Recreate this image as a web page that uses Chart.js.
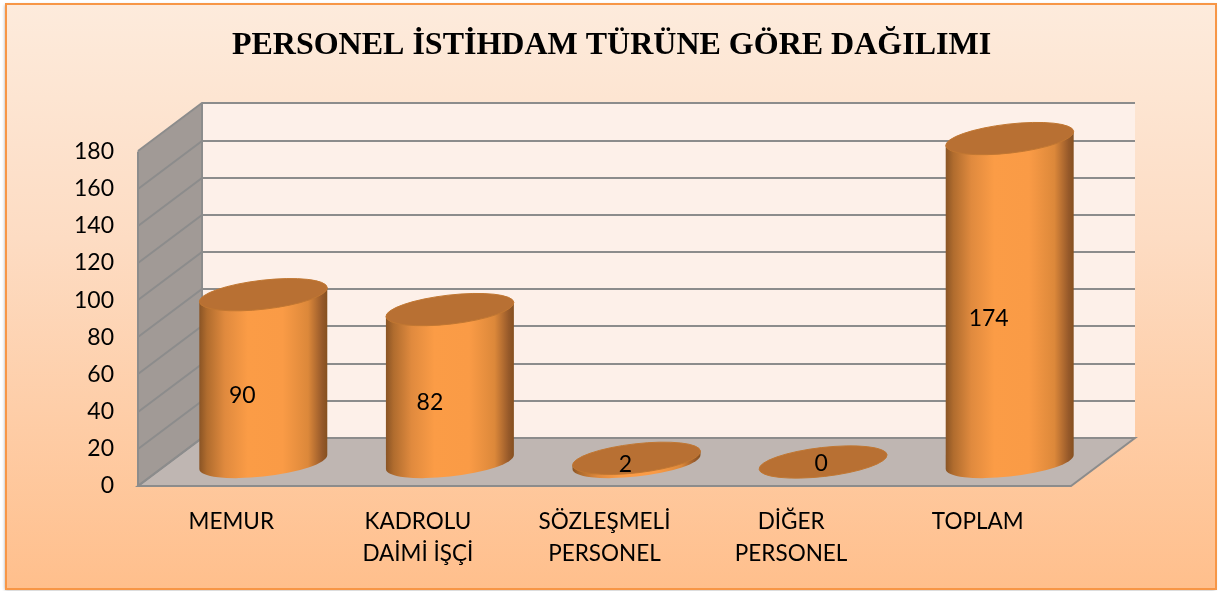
<!DOCTYPE html>
<html lang="tr">
<head>
<meta charset="utf-8">
<title>Personel İstihdam Türüne Göre Dağılımı</title>
<script src="https://cdn.jsdelivr.net/npm/chart.js@4"></script>
<style>
  html, body { margin: 0; padding: 0; background: #fff; }
  canvas { display: block; }
</style>
</head>
<body>
<canvas id="chart" width="1219" height="591"></canvas>
<script>
const categories = [["MEMUR"], ["KADROLU", "DAİMİ İŞÇİ"], ["SÖZLEŞMELİ", "PERSONEL"], ["DİĞER", "PERSONEL"], ["TOPLAM"]];
const values = [90, 82, 2, 0, 174];
const yTicks = [0, 20, 40, 60, 80, 100, 120, 140, 160, 180];
const chartTitle = "PERSONEL İSTİHDAM TÜRÜNE GÖRE DAĞILIMI";

// depth of the fake 3D box
const DEPTH_X = 64;
const DEPTH_Y = -48;
const ELLIPSE_RY = 14.5;
const ELLIPSE_ROT = -6.5 * Math.PI / 180;
// value labels sit off centre on the original
const labelNudgeX = [-21, -20, -11, -2, -21];
const labelNudgeY = [17, 17, 4, 2, 18];

const FONT = "Lato, 'Open Sans', sans-serif";

const backgroundPlugin = {
  id: "frame",
  // the title is centred on the whole frame, not on the padded box
  afterLayout(chart) {
    chart.titleBlock.left += 66;
    chart.titleBlock.right += 66;
  },
  beforeDraw(chart) {
    const ctx = chart.ctx;
    const g = ctx.createLinearGradient(0, 4, 0, 589);
    g.addColorStop(0, "#fdebdc");
    g.addColorStop(0.4, "#fddcc3");
    g.addColorStop(1, "#ffbf8c");
    ctx.save();
    ctx.shadowColor = "rgba(0,0,0,0.35)";
    ctx.shadowBlur = 3;
    ctx.shadowOffsetX = -1;
    ctx.shadowOffsetY = 1;
    ctx.fillStyle = g;
    ctx.fillRect(6, 4, 1210, 585);
    ctx.restore();
    ctx.save();
    ctx.strokeStyle = "#f79646";
    ctx.lineWidth = 2;
    ctx.strokeRect(6, 4, 1210, 585);
    ctx.restore();
  }
};

const boxPlugin = {
  id: "box",
  beforeDatasetsDraw(chart) {
    const ctx = chart.ctx;
    const y = chart.scales.y;
    const a = chart.chartArea;
    const base = y.getPixelForValue(0);
    const top = y.getPixelForValue(180);
    ctx.save();

    // back wall
    ctx.fillStyle = "#fdf0e9";
    ctx.fillRect(a.left + DEPTH_X, top + DEPTH_Y, a.right - a.left, base - top);

    // side wall
    ctx.fillStyle = "#a19a96";
    ctx.beginPath();
    ctx.moveTo(a.left, top);
    ctx.lineTo(a.left + DEPTH_X, top + DEPTH_Y);
    ctx.lineTo(a.left + DEPTH_X, base + DEPTH_Y);
    ctx.lineTo(a.left, base);
    ctx.closePath();
    ctx.fill();

    // floor
    ctx.fillStyle = "#bfb6b2";
    ctx.beginPath();
    ctx.moveTo(a.left, base);
    ctx.lineTo(a.right, base);
    ctx.lineTo(a.right + DEPTH_X, base + DEPTH_Y);
    ctx.lineTo(a.left + DEPTH_X, base + DEPTH_Y);
    ctx.closePath();
    ctx.fill();
    ctx.strokeStyle = "#8c8c8c";
    ctx.lineWidth = 2;
    ctx.stroke();

    // grid lines along side wall and back wall, snapped so they stay crisp
    yTicks.forEach((t) => {
      const py = Math.round(y.getPixelForValue(t));
      ctx.beginPath();
      ctx.moveTo(a.left, py);
      ctx.lineTo(a.left + DEPTH_X, py + DEPTH_Y);
      ctx.lineTo(a.right + DEPTH_X, py + DEPTH_Y);
      ctx.stroke();
    });
    ctx.beginPath();
    ctx.moveTo(a.left, top);
    ctx.lineTo(a.left, base);
    ctx.moveTo(a.left + DEPTH_X, top + DEPTH_Y);
    ctx.lineTo(a.left + DEPTH_X, base + DEPTH_Y);
    ctx.stroke();
    ctx.restore();
  }
};

function drawCylinder(ctx, cx, topY, baseY, rx) {
  const t0 = Math.atan(-(ELLIPSE_RY / rx) * Math.tan(ELLIPSE_ROT));
  const edgeX = rx * Math.cos(t0) * Math.cos(ELLIPSE_ROT) - ELLIPSE_RY * Math.sin(t0) * Math.sin(ELLIPSE_ROT);
  const edgeY = rx * Math.cos(t0) * Math.sin(ELLIPSE_ROT) + ELLIPSE_RY * Math.sin(t0) * Math.cos(ELLIPSE_ROT);

  if (baseY - topY > 0.5) {
    const g = ctx.createLinearGradient(cx - edgeX, 0, cx + edgeX, 0);
    g.addColorStop(0, "#8a5425");
    g.addColorStop(0.06, "#b06c2e");
    g.addColorStop(0.2, "#e08a3e");
    g.addColorStop(0.38, "#fb9c46");
    g.addColorStop(0.65, "#fa9b46");
    g.addColorStop(0.85, "#dc883a");
    g.addColorStop(0.96, "#96592a");
    g.addColorStop(1, "#85501f");
    ctx.fillStyle = g;
    ctx.beginPath();
    ctx.moveTo(cx - edgeX, topY - edgeY);
    ctx.ellipse(cx, baseY, rx, ELLIPSE_RY, ELLIPSE_ROT, t0 + Math.PI, t0, true);
    ctx.lineTo(cx + edgeX, topY + edgeY);
    ctx.closePath();
    ctx.fill();
  }

  ctx.fillStyle = "#b87033";
  ctx.strokeStyle = "#c17732";
  ctx.lineWidth = 1;
  ctx.beginPath();
  ctx.ellipse(cx, topY, rx, ELLIPSE_RY, ELLIPSE_ROT, 0, Math.PI * 2);
  ctx.fill();
  ctx.stroke();
}

const cylinderPlugin = {
  id: "cylinders",
  afterDatasetsDraw(chart) {
    const ctx = chart.ctx;
    const meta = chart.getDatasetMeta(0);
    ctx.save();
    meta.data.forEach((bar) => {
      drawCylinder(ctx, bar.x + DEPTH_X / 2, bar.y + DEPTH_Y / 2, bar.base + DEPTH_Y / 2, bar.width / 2);
    });
    ctx.fillStyle = "#000";
    ctx.font = "23px " + FONT;
    ctx.textAlign = "center";
    ctx.textBaseline = "middle";
    meta.data.forEach((bar, i) => {
      const midY = (bar.y + bar.base) / 2 + DEPTH_Y / 2;
      ctx.fillText(String(values[i]), bar.x + DEPTH_X / 2 + labelNudgeX[i], midY + labelNudgeY[i]);
    });
    ctx.restore();
  }
};

new Chart(document.getElementById("chart"), {
  type: "bar",
  data: {
    labels: categories,
    datasets: [{
      data: values,
      backgroundColor: "transparent",
      borderWidth: 0,
      categoryPercentage: 1,
      barPercentage: 0.69
    }]
  },
  options: {
    responsive: false,
    animation: false,
    layout: { padding: { left: 20, right: 148, top: 10, bottom: 0 } },
    plugins: {
      legend: { display: false },
      tooltip: { enabled: false },
      title: {
        display: true,
        text: chartTitle,
        color: "#000",
        font: { family: "'Liberation Serif', serif", size: 32, weight: "bold" },
        padding: { top: 17, bottom: 86 }
      }
    },
    scales: {
      x: {
        grid: { display: false, drawTicks: false },
        border: { display: false },
        afterFit(scale) { scale.height = 105; },
        ticks: {
          color: "#000",
          autoSkip: false,
          maxRotation: 0,
          padding: 20,
          font: { family: FONT, size: 22.5, lineHeight: 1.42 }
        }
      },
      y: {
        min: 0,
        max: 180,
        afterBuildTicks(scale) { scale.ticks = yTicks.map(v => ({ value: v })); },
        afterFit(scale) { scale.width = 118; },
        grid: { display: false, drawTicks: false },
        border: { display: false },
        ticks: {
          color: "#000",
          padding: 24,
          font: { family: FONT, size: 23 }
        }
      }
    }
  },
  plugins: [backgroundPlugin, boxPlugin, cylinderPlugin]
});
</script>
</body>
</html>
